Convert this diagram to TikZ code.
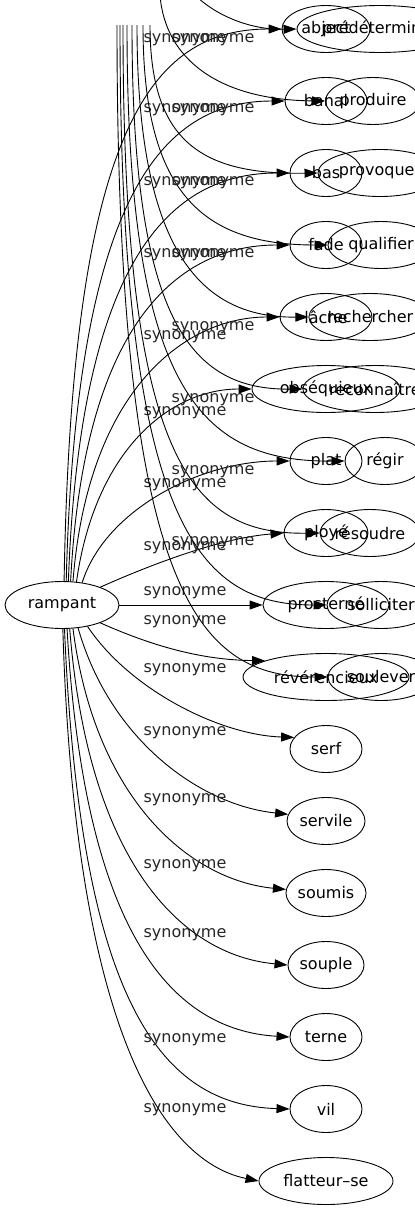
\documentclass[tikz,border=0pt]{standalone}
\usepackage{fontspec}
\setmainfont{DejaVu Sans}
\usetikzlibrary{arrows.meta,shapes.geometric}
\begin{document}
\begin{tikzpicture}[x=1pt,y=-1pt,
 nd/.style={draw,ellipse,inner sep=0pt,minimum height=47pt,line width=0.9pt,font=\fontsize{16}{18}\selectfont},
 lb/.style={font=\fontsize{16}{18}\selectfont,inner sep=0pt,text=black!85},
 ed/.style={line width=0.9pt,-{Triangle[length=13pt,width=9pt]}},
 ln/.style={line width=0.9pt}]
\useasboundingbox (0,0) rectangle (415,1211);
\clip (0,0) rectangle (415,1211);
% ---------- rampant graph ----------
\node[nd,minimum width=114pt] (ramp) at (62,605) {rampant};
\node[nd,minimum width=88pt] (abject) at (326,29) {abject};
\node[nd,minimum width=82pt] (banal) at (326,101) {banal};
\node[nd,minimum width=72pt] (bas) at (326,173) {bas};
\node[nd,minimum width=72pt] (fade) at (326,245) {fade};
\node[nd,minimum width=92pt] (lache) at (326,317) {lâche};
\node[nd,minimum width=148pt] (obs) at (326,389) {obséquieux};
\node[nd,minimum width=72pt] (plat) at (326,461) {plat};
\node[nd,minimum width=84pt] (ploye) at (326,533) {ployé};
\node[nd,minimum width=126pt] (pros) at (326,605) {prosterné};
\node[nd,minimum width=166pt] (rev) at (326,677) {révérencieux};
\node[nd,minimum width=72pt] (serf) at (326,749) {serf};
\node[nd,minimum width=78pt] (servile) at (326,821) {servile};
\node[nd,minimum width=80pt] (soumis) at (326,893) {soumis};
\node[nd,minimum width=76pt] (souple) at (326,965) {souple};
\node[nd,minimum width=72pt] (terne) at (326,1037) {terne};
\node[nd,minimum width=72pt] (vil) at (326,1109) {vil};
\node[nd,minimum width=134pt] (flat) at (326,1181) {flatteur–se};

\draw[ed] (ramp.85) .. controls (72,130) and (150,29) .. (abject.west);
\draw[ed] (ramp.80) .. controls (76,200) and (160,101) .. (banal.west);
\draw[ed] (ramp.75) .. controls (80,260) and (170,173) .. (bas.west);
\draw[ed] (ramp.70) .. controls (84,320) and (180,245) .. (fade.west);
\draw[ed] (ramp.65) .. controls (88,390) and (185,317) .. (lache.west);
\draw[ed] (ramp.58) .. controls (95,450) and (170,389) .. (obs.west);
\draw[ed] (ramp.48) .. controls (105,510) and (200,461) .. (plat.west);
\draw[ed] (ramp.25) .. controls (150,565) and (220,538) .. (ploye.west);
\draw[ed] (ramp.east) -- (pros.west);
\draw[ed] (ramp.-25) .. controls (150,645) and (200,660) .. (rev.165);
\draw[ed] (ramp.-40) .. controls (130,690) and (220,735) .. (serf.160);
\draw[ed] (ramp.-55) .. controls (110,740) and (200,805) .. (servile.170);
\draw[ed] (ramp.-65) .. controls (95,800) and (190,880) .. (soumis.175);
\draw[ed] (ramp.-72) .. controls (88,860) and (180,955) .. (souple.west);
\draw[ed] (ramp.-78) .. controls (84,930) and (170,1030) .. (terne.west);
\draw[ed] (ramp.-84) .. controls (80,1000) and (160,1105) .. (vil.west);
\draw[ed] (ramp.-88) .. controls (76,1070) and (180,1165) .. (flat.west);

\foreach \y in {40,110,183,255,337,413,485,548,593,622,670,733,800,866,935,1040,1110}
  \node[lb] at (185,\y) {synonyme};

% ---------- second graph (overlapping) ----------
\node[nd,minimum width=166pt] (pred) at (380,29) {prédéterminer};
\node[nd,minimum width=90pt] (prod) at (373,101) {produire};
\node[nd,minimum width=124pt] (prov) at (380,173) {provoquer};
\node[nd,minimum width=106pt] (qual) at (381,245) {qualifier};
\node[nd,minimum width=106pt] (rech) at (370,317) {rechercher};
\node[nd,minimum width=144pt] (reco) at (375,389) {reconnaître};
\node[nd,minimum width=80pt] (regir) at (385,461) {régir};
\node[nd,minimum width=92pt] (reso) at (370,533) {résoudre};
\node[nd,minimum width=108pt] (soll) at (381,605) {solliciter};
\node[nd,minimum width=106pt] (soul) at (381,677) {soulever};

\coordinate (s0) at (195,-5);
\coordinate (s1) at (160,-5);
\coordinate (s2) at (150,25);
\coordinate (s3) at (143,25);
\coordinate (s4) at (137,25);
\coordinate (s5) at (132,25);
\coordinate (s6) at (127,25);
\coordinate (s7) at (123,25);
\coordinate (s8) at (120,25);
\coordinate (s9) at (117,25);

\draw[ed] (s0) .. controls (215,15) and (250,30) .. (pred.west);
\draw[ed] (s1) .. controls (165,60) and (220,100) .. (prod.west);
\draw[ed] (s2) .. controls (150,140) and (200,175) .. (prov.west);
\draw[ed] (s3) .. controls (143,190) and (200,245) .. (qual.west);
\draw[ed] (s4) .. controls (137,250) and (200,318) .. (rech.west);
\draw[ed] (s5) .. controls (132,320) and (190,390) .. (reco.west);
\draw[ed] (s6) .. controls (127,390) and (200,462) .. (regir.west);
\draw[ed] (s7) .. controls (123,460) and (190,535) .. (reso.west);
\draw[ed] (s8) .. controls (120,530) and (200,605) .. (soll.west);
\draw[ed] (s9) .. controls (117,600) and (200,677) .. (soul.west);

\foreach \y in {40,110,183,255,328,400,472,543}
  \node[lb] at (213,\y) {synonyme};
\end{tikzpicture}
\end{document}
